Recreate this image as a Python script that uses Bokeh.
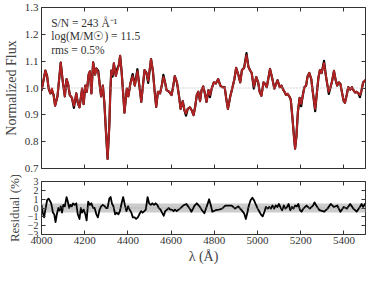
from bokeh.plotting import figure
from bokeh.layouts import column
from bokeh.models import (LinearAxis, FixedTicker, Span, BoxAnnotation, Label, Range1d,
                          PrintfTickFormatter)
from bokeh.embed import file_html
from bokeh.resources import INLINE

# ---------------- data ----------------
wave = [4000, 4018, 4026, 4033, 4041, 4048, 4056, 4063, 4074, 4081,
        4089, 4098, 4108, 4116, 4123, 4131, 4141, 4150, 4161, 4168,
        4176, 4188, 4195, 4203, 4210, 4218, 4224, 4231, 4239, 4248,
        4254, 4263, 4270, 4276, 4284, 4291, 4299, 4306, 4314, 4318,
        4323, 4329, 4335, 4344, 4351, 4358, 4364, 4371, 4378, 4384,
        4395, 4402, 4411, 4422, 4432, 4444, 4452, 4462, 4471, 4477,
        4486, 4494, 4507, 4516, 4524, 4531, 4539, 4549, 4557, 4564,
        4572, 4579, 4591, 4602, 4609, 4617, 4627, 4636, 4644, 4654,
        4662, 4669, 4677, 4687, 4696, 4704, 4711, 4719, 4726, 4734,
        4741, 4749, 4758, 4764, 4773, 4780, 4788, 4798, 4807, 4818,
        4828, 4837, 4848, 4856, 4863, 4874, 4883, 4893, 4901, 4911,
        4920, 4928, 4938, 4949, 4958, 4965, 4973, 4983, 4994, 5003,
        5010, 5018, 5028, 5036, 5043, 5058, 5069, 5078, 5085, 5093,
        5103, 5111, 5118, 5125, 5132, 5139, 5147, 5154, 5162, 5169,
        5174, 5180, 5187, 5195, 5202, 5210, 5217, 5225, 5232, 5240,
        5249, 5256, 5267, 5274, 5282, 5289, 5297, 5308, 5317, 5324,
        5330, 5338, 5345, 5354, 5362, 5369, 5377, 5384, 5392, 5399,
        5405, 5413, 5420, 5429, 5437, 5444, 5452, 5459, 5467, 5474,
        5482, 5489, 5497, 5500]

model_flux = [0.990, 1.065, 1.044, 0.998, 0.980, 0.998, 0.974, 0.934, 0.969, 1.027,
              1.095, 1.027, 0.969, 1.033, 1.015, 0.974, 0.963, 0.934, 0.980, 0.945,
              0.928, 0.998, 0.940, 1.009, 0.986, 1.050, 1.062, 0.980, 1.096, 1.050,
              1.073, 1.056, 1.009, 0.969, 1.009, 0.945, 0.829, 0.736, 0.860, 0.970,
              1.065, 1.050, 1.092, 1.045, 1.065, 1.085, 1.120, 1.060, 0.980, 0.908,
              0.998, 0.969, 1.015, 1.044, 1.009, 1.062, 1.015, 0.948, 1.021, 1.067,
              1.056, 1.027, 1.108, 1.062, 0.986, 0.930, 0.986, 0.980, 1.009, 1.041,
              1.021, 0.992, 0.986, 0.974, 1.003, 1.044, 1.021, 0.974, 0.922, 0.951,
              0.916, 0.905, 0.922, 0.928, 0.916, 0.899, 0.928, 0.974, 0.986, 0.951,
              0.992, 1.006, 0.974, 0.948, 0.992, 0.974, 0.998, 1.021, 1.017, 1.033,
              1.009, 1.003, 1.003, 0.957, 0.922, 0.969, 0.998, 1.033, 1.075, 1.050,
              1.021, 1.067, 1.075, 1.122, 1.079, 1.067, 1.056, 1.006, 1.041, 1.021,
              0.986, 0.971, 1.021, 1.015, 1.003, 1.071, 1.033, 0.998, 1.013, 1.029,
              1.003, 1.009, 0.995, 0.986, 0.974, 0.978, 0.969, 0.957, 0.887, 0.818,
              0.774, 0.818, 0.911, 0.963, 0.940, 0.974, 1.003, 1.009, 1.044, 1.056,
              1.033, 0.986, 0.922, 0.974, 1.038, 1.067, 1.056, 1.093, 1.044, 1.009,
              0.986, 1.003, 1.024, 1.064, 1.029, 1.009, 1.021, 1.015, 0.980, 0.951,
              0.945, 0.974, 1.003, 0.994, 1.003, 0.992, 0.983, 0.986, 0.980, 0.974,
              0.992, 1.021, 1.027, 1.030]

# where the observed (black) spectrum pokes out from under the model
obs_dev = {4048: -0.008, 4150: -0.008, 4263: 0.008, 4329: -0.008, 4351: 0.008,
           4422: 0.008, 4444: 0.008, 4494: -0.008, 4564: 0.008, 4669: -0.008,
           4780: -0.008, 4949: 0.008, 4983: -0.008, 5202: -0.008, 5267: -0.008,
           5308: 0.008, 5330: -0.008, 5474: -0.008}
obs_flux = [f + obs_dev.get(w, 0.0) for w, f in zip(wave, model_flux)]

res_wave = [4000, 4006, 4012, 4018, 4026, 4033, 4041, 4045, 4053, 4059,
            4065, 4071, 4078, 4083, 4089, 4095, 4101, 4108, 4116, 4122,
            4128, 4134, 4140, 4146, 4153, 4161, 4168, 4176, 4182, 4188,
            4195, 4203, 4209, 4216, 4224, 4231, 4239, 4246, 4254, 4261,
            4269, 4276, 4284, 4293, 4299, 4306, 4314, 4320, 4326, 4333,
            4341, 4348, 4356, 4363, 4371, 4378, 4386, 4393, 4401, 4408,
            4416, 4423, 4431, 4438, 4446, 4453, 4461, 4468, 4476, 4483,
            4491, 4498, 4506, 4513, 4521, 4528, 4536, 4543, 4551, 4558,
            4566, 4573, 4581, 4588, 4596, 4603, 4611, 4618, 4626, 4641,
            4656, 4671, 4686, 4694, 4709, 4719, 4734, 4743, 4754, 4769,
            4776, 4784, 4791, 4806, 4821, 4836, 4851, 4866, 4881, 4896,
            4911, 4926, 4938, 4946, 4954, 4960, 4968, 4976, 4984, 4991,
            5001, 5009, 5017, 5024, 5032, 5039, 5047, 5054, 5062, 5069,
            5077, 5084, 5092, 5099, 5107, 5114, 5122, 5129, 5137, 5144,
            5152, 5159, 5167, 5174, 5182, 5189, 5197, 5204, 5212, 5227,
            5242, 5257, 5264, 5272, 5287, 5309, 5324, 5339, 5354, 5369,
            5384, 5399, 5414, 5429, 5444, 5459, 5474, 5482, 5489, 5497,
            5500]

res_pct = [0.35, -0.53, -1.06, -0.18, 0.88, 1.06, 0.71, 0.53, -0.53, -0.71,
           -1.59, -0.71, 0.00, -0.28, 0.18, -0.53, 0.35, 0.18, 1.24, 0.71,
           0.00, 0.35, 0.18, 0.53, 0.35, 0.53, -0.71, -1.24, 0.00, -0.53,
           -0.18, -0.71, -1.41, 0.71, 0.35, 0.53, 0.00, 0.00, -0.71, -1.06,
           -0.18, 0.18, 0.35, 0.18, 0.00, 0.00, 1.06, 1.24, 0.53, 0.18,
           -0.71, -0.53, -0.71, -0.35, 0.53, 1.24, 0.35, -0.35, 0.18, -0.18,
           -0.53, -1.06, -1.06, -1.24, -1.06, -0.71, -0.35, -0.53, -0.35, -0.18,
           1.24, 0.53, 0.35, 0.53, 0.35, 0.53, 0.35, 0.00, -0.18, -0.53,
           -0.88, -0.35, -0.18, 0.00, -0.18, -0.18, -0.35, -0.18, -0.35, -0.07,
           0.28, 0.46, -0.07, -0.42, 0.28, 0.53, 0.11, -0.25, -0.60, 0.46,
           0.99, 0.28, -0.42, -0.25, -0.18, -0.07, 0.28, 0.28, 0.28, -0.07,
           0.18, -0.25, -0.60, -1.24, -0.42, 0.28, 0.88, 1.17, 0.88, 0.46,
           -0.07, -0.42, -0.78, -0.95, -0.42, 0.11, -0.07, 0.11, -0.07, 0.28,
           -0.07, 0.28, 0.11, 0.46, 0.04, -0.25, 0.28, -0.07, 0.11, 0.46,
           -0.25, 0.11, -0.07, 0.28, 0.18, 0.46, -0.25, -0.42, -0.07, 0.28,
           -0.07, 0.28, 0.64, 0.28, -0.25, -0.42, -0.07, 0.46, 0.11, 0.28,
           -0.42, 0.11, -0.07, 0.46, -0.07, -0.42, 0.11, 0.46, 0.11, 0.46,
           0.50]

x_ticks = [4000, 4200, 4400, 4600, 4800, 5000, 5200, 5400]
flux_ticks = [0.7, 0.8, 0.9, 1.0, 1.1, 1.2, 1.3]
res_ticks = [-3, -2, -1, 0, 1, 2, 3]
res_tick_labels = {-3: "\u22123", -2: "\u22122", -1: "\u22121", 0: "0", 1: "1", 2: "2", 3: "3"}
rms_pct = 0.5
annotations = ["S/N = 243 \u00c5\u207b\u00b9", "log(M/M\u2609) = 11.5", "rms = 0.5%"]

# ---------------- styling ----------------
FONT = "Liberation Serif"
INK = "#333333"
RED = "#b22222"
W = 366
LEFT = 34

x_range = Range1d(4000, 5500)


def tick_only_axis(ticks):
    # axis that only draws inward ticks (labels not painted)
    return LinearAxis(ticker=FixedTicker(ticks=ticks), axis_line_color=None,
                      major_tick_in=4, major_tick_out=0, major_tick_line_color=INK,
                      minor_tick_line_color=None, major_label_text_font_size="1px",
                      major_label_text_color=None, major_label_standoff=0)


def dress(p, yticks, ylabel, ytick_size):
    p.outline_line_color = INK
    p.outline_line_width = 1
    p.xgrid.visible = False
    p.ygrid.visible = False
    p.background_fill_color = "white"
    p.border_fill_color = "white"
    for ax in p.xaxis + p.yaxis:
        ax.axis_line_color = None
        ax.major_tick_in = 4
        ax.major_tick_out = 0
        ax.major_tick_line_color = INK
        ax.minor_tick_line_color = None
        ax.major_label_text_font = FONT
        ax.major_label_text_color = INK
        ax.axis_label_text_font = FONT
        ax.axis_label_text_font_style = "normal"
        ax.axis_label_text_color = "#444444"
        ax.axis_label_text_font_size = "14px"
    p.xaxis.ticker = FixedTicker(ticks=x_ticks)
    p.yaxis.ticker = FixedTicker(ticks=yticks)
    p.yaxis.major_label_text_font_size = ytick_size
    p.yaxis.major_label_standoff = 3
    p.yaxis.axis_label = ylabel
    p.yaxis.axis_label_standoff = 3
    p.add_layout(tick_only_axis(x_ticks), "above")
    p.add_layout(tick_only_axis(yticks), "right")


# top panel
p1 = figure(width=W, height=175, x_range=x_range, y_range=Range1d(0.7, 1.3),
            output_backend="svg", toolbar_location=None,
            min_border_left=LEFT, min_border_right=1, min_border_top=7, min_border_bottom=7)
dress(p1, flux_ticks, "Normalized Flux", "11px")
p1.yaxis.formatter = PrintfTickFormatter(format="%.1f")
bx = p1.below[0]
bx.major_label_text_font_size = "1px"
bx.major_label_text_color = None
bx.major_label_standoff = 0

p1.add_layout(Span(location=1.0, dimension="width", line_color="#aaaaaa",
                   line_dash="1 2", line_width=1))
p1.line(wave, obs_flux, line_color="black", line_width=2.2, line_join="round")
p1.line(wave, model_flux, line_color=RED, line_width=2.0, line_join="round")
for txt, yv in zip(annotations, [1.243, 1.195, 1.143]):
    p1.add_layout(Label(x=4045, y=yv, text=txt, text_font=FONT, text_font_size="11.5px",
                        text_color=INK, text_baseline="middle"))

# residual panel
p2 = figure(width=W, height=91, x_range=x_range, y_range=Range1d(-3, 3),
            output_backend="svg", toolbar_location=None,
            min_border_left=LEFT, min_border_right=1, min_border_top=6, min_border_bottom=30)
dress(p2, res_ticks, "Residual (%)", "10px")
p2.yaxis.major_label_overrides = res_tick_labels
p2.yaxis.axis_label_text_font_size = "13px"
bx2 = p2.below[0]
bx2.major_label_text_font_size = "11px"
bx2.major_label_standoff = 2
bx2.axis_label = "\u03bb (\u00c5)"
bx2.axis_label_standoff = 2

p2.add_layout(BoxAnnotation(bottom=-rms_pct, top=rms_pct, fill_color="#cccccc",
                            fill_alpha=1.0, line_color=None, level="underlay"))
p2.add_layout(Span(location=0, dimension="width", line_color="#999999",
                   line_dash="1 2", line_width=1))
p2.line(res_wave, res_pct, line_color="black", line_width=1.8, line_join="round")

layout = column(p1, p2, spacing=0)
open("out.html", "w").write(file_html(layout, INLINE))
